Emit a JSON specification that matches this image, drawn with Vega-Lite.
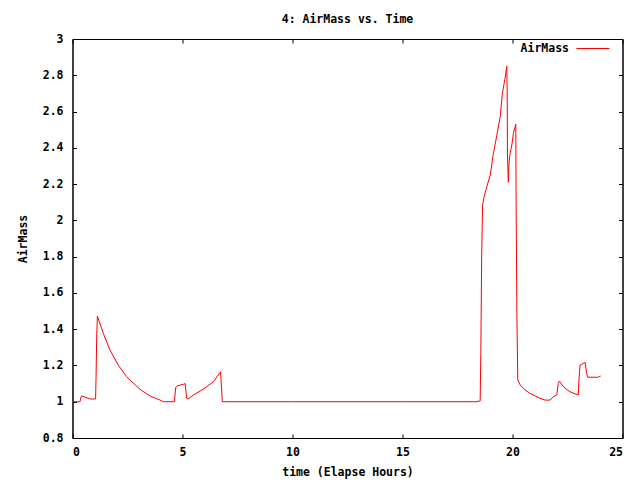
{
  "$schema": "https://vega.github.io/schema/vega-lite/v6.json",
  "width": 550,
  "height": 399,
  "autosize": {"type": "none"},
  "padding": {"left": 72.5, "top": 39, "right": 17.5, "bottom": 42},
  "background": "white",
  "config": {
    "view": {"stroke": "black", "strokeWidth": 1},
    "font": "DejaVu Sans Mono",
    "axis": {
      "grid": false,
      "domain": true,
      "domainColor": "black",
      "domainWidth": 1,
      "tickColor": "black",
      "tickSize": -4,
      "labelFont": "DejaVu Sans Mono",
      "labelFontSize": 11.5,
      "labelFontWeight": "bold",
      "labelColor": "black",
      "titleFont": "DejaVu Sans Mono",
      "titleFontSize": 11.5,
      "titleFontWeight": "bold",
      "titleColor": "black"
    },
    "legend": {
      "labelFont": "DejaVu Sans Mono",
      "labelFontSize": 11.5,
      "labelFontWeight": "bold",
      "labelColor": "black"
    }
  },
  "title": {
    "text": "4: AirMass vs. Time",
    "font": "DejaVu Sans Mono",
    "fontSize": 11.5,
    "fontWeight": "bold",
    "color": "black",
    "anchor": "middle",
    "offset": 6
  },
  "data": {
    "values": [
      {"t": 0.0, "am": 1.0, "s": "AirMass"},
      {"t": 0.34, "am": 1.0, "s": "AirMass"},
      {"t": 0.4, "am": 1.031, "s": "AirMass"},
      {"t": 0.45, "am": 1.031, "s": "AirMass"},
      {"t": 0.8, "am": 1.015, "s": "AirMass"},
      {"t": 1.05, "am": 1.015, "s": "AirMass"},
      {"t": 1.07, "am": 1.13, "s": "AirMass"},
      {"t": 1.1, "am": 1.358, "s": "AirMass"},
      {"t": 1.13, "am": 1.472, "s": "AirMass"},
      {"t": 1.4, "am": 1.377, "s": "AirMass"},
      {"t": 1.7, "am": 1.285, "s": "AirMass"},
      {"t": 2.08, "am": 1.202, "s": "AirMass"},
      {"t": 2.46, "am": 1.138, "s": "AirMass"},
      {"t": 3.07, "am": 1.068, "s": "AirMass"},
      {"t": 3.53, "am": 1.031, "s": "AirMass"},
      {"t": 3.98, "am": 1.009, "s": "AirMass"},
      {"t": 4.13, "am": 1.0, "s": "AirMass"},
      {"t": 4.63, "am": 1.0, "s": "AirMass"},
      {"t": 4.69, "am": 1.079, "s": "AirMass"},
      {"t": 4.77, "am": 1.088, "s": "AirMass"},
      {"t": 5.04, "am": 1.096, "s": "AirMass"},
      {"t": 5.12, "am": 1.1, "s": "AirMass"},
      {"t": 5.19, "am": 1.019, "s": "AirMass"},
      {"t": 5.26, "am": 1.015, "s": "AirMass"},
      {"t": 5.49, "am": 1.037, "s": "AirMass"},
      {"t": 5.95, "am": 1.07, "s": "AirMass"},
      {"t": 6.4, "am": 1.11, "s": "AirMass"},
      {"t": 6.7, "am": 1.16, "s": "AirMass"},
      {"t": 6.73, "am": 1.165, "s": "AirMass"},
      {"t": 6.81, "am": 1.0, "s": "AirMass"},
      {"t": 10.0, "am": 1.0, "s": "AirMass"},
      {"t": 15.0, "am": 1.0, "s": "AirMass"},
      {"t": 18.33, "am": 1.0, "s": "AirMass"},
      {"t": 18.53, "am": 1.004, "s": "AirMass"},
      {"t": 18.56, "am": 1.267, "s": "AirMass"},
      {"t": 18.6, "am": 1.809, "s": "AirMass"},
      {"t": 18.64, "am": 2.084, "s": "AirMass"},
      {"t": 18.71, "am": 2.13, "s": "AirMass"},
      {"t": 18.83, "am": 2.185, "s": "AirMass"},
      {"t": 18.99, "am": 2.25, "s": "AirMass"},
      {"t": 19.13, "am": 2.369, "s": "AirMass"},
      {"t": 19.29, "am": 2.47, "s": "AirMass"},
      {"t": 19.44, "am": 2.571, "s": "AirMass"},
      {"t": 19.54, "am": 2.7, "s": "AirMass"},
      {"t": 19.67, "am": 2.79, "s": "AirMass"},
      {"t": 19.74, "am": 2.85, "s": "AirMass"},
      {"t": 19.76, "am": 2.68, "s": "AirMass"},
      {"t": 19.77, "am": 2.37, "s": "AirMass"},
      {"t": 19.81, "am": 2.21, "s": "AirMass"},
      {"t": 19.84, "am": 2.314, "s": "AirMass"},
      {"t": 19.89, "am": 2.37, "s": "AirMass"},
      {"t": 19.97, "am": 2.415, "s": "AirMass"},
      {"t": 20.04, "am": 2.48, "s": "AirMass"},
      {"t": 20.12, "am": 2.516, "s": "AirMass"},
      {"t": 20.15, "am": 2.53, "s": "AirMass"},
      {"t": 20.16, "am": 2.185, "s": "AirMass"},
      {"t": 20.2, "am": 1.469, "s": "AirMass"},
      {"t": 20.24, "am": 1.12, "s": "AirMass"},
      {"t": 20.35, "am": 1.092, "s": "AirMass"},
      {"t": 20.57, "am": 1.065, "s": "AirMass"},
      {"t": 20.8, "am": 1.046, "s": "AirMass"},
      {"t": 21.25, "am": 1.019, "s": "AirMass"},
      {"t": 21.48, "am": 1.009, "s": "AirMass"},
      {"t": 21.71, "am": 1.009, "s": "AirMass"},
      {"t": 21.86, "am": 1.028, "s": "AirMass"},
      {"t": 22.01, "am": 1.037, "s": "AirMass"},
      {"t": 22.08, "am": 1.1, "s": "AirMass"},
      {"t": 22.13, "am": 1.114, "s": "AirMass"},
      {"t": 22.31, "am": 1.083, "s": "AirMass"},
      {"t": 22.61, "am": 1.055, "s": "AirMass"},
      {"t": 22.99, "am": 1.037, "s": "AirMass"},
      {"t": 23.02, "am": 1.12, "s": "AirMass"},
      {"t": 23.07, "am": 1.202, "s": "AirMass"},
      {"t": 23.22, "am": 1.212, "s": "AirMass"},
      {"t": 23.3, "am": 1.217, "s": "AirMass"},
      {"t": 23.37, "am": 1.157, "s": "AirMass"},
      {"t": 23.42, "am": 1.135, "s": "AirMass"},
      {"t": 23.9, "am": 1.135, "s": "AirMass"},
      {"t": 24.01, "am": 1.142, "s": "AirMass"}
    ]
  },
  "layer": [
    {
      "mark": {"type": "line", "strokeWidth": 1, "interpolate": "linear"},
      "encoding": {
        "x": {
          "field": "t", "type": "quantitative",
          "scale": {"domain": [0, 25], "nice": false, "zero": false},
          "axis": {"orient": "bottom", "values": [0, 5, 10, 15, 20, 25], "labelPadding": 12, "title": "time (Elapse Hours)", "titlePadding": 9}
        },
        "y": {
          "field": "am", "type": "quantitative",
          "scale": {"domain": [0.8, 3], "nice": false, "zero": false},
          "axis": {"orient": "left", "values": [0.8, 1, 1.2, 1.4, 1.6, 1.8, 2, 2.2, 2.4, 2.6, 2.8, 3], "format": "~g", "labelPadding": 13.5, "title": "AirMass", "titlePadding": 14}
        },
        "color": {
          "field": "s", "type": "nominal",
          "scale": {"range": ["#ff0000"]},
          "legend": {
            "title": null,
            "orient": "none",
            "legendX": 503.5,
            "legendY": -7.5,
            "symbolType": "stroke",
            "symbolSize": 1089,
            "symbolStrokeWidth": 1,
            "labelAlign": "right",
            "labelOffset": -41,
            "padding": 0
          }
        }
      }
    },
    {
      "mark": {"type": "line", "strokeOpacity": 0},
      "encoding": {
        "x": {
          "field": "t", "type": "quantitative",
          "axis": {"orient": "top", "values": [0, 5, 10, 15, 20, 25], "labels": false, "title": null}
        },
        "y": {
          "field": "am", "type": "quantitative",
          "axis": {"orient": "right", "values": [0.8, 1, 1.2, 1.4, 1.6, 1.8, 2, 2.2, 2.4, 2.6, 2.8, 3], "labels": false, "title": null}
        }
      }
    }
  ],
  "resolve": {"axis": {"x": "independent", "y": "independent"}}
}
